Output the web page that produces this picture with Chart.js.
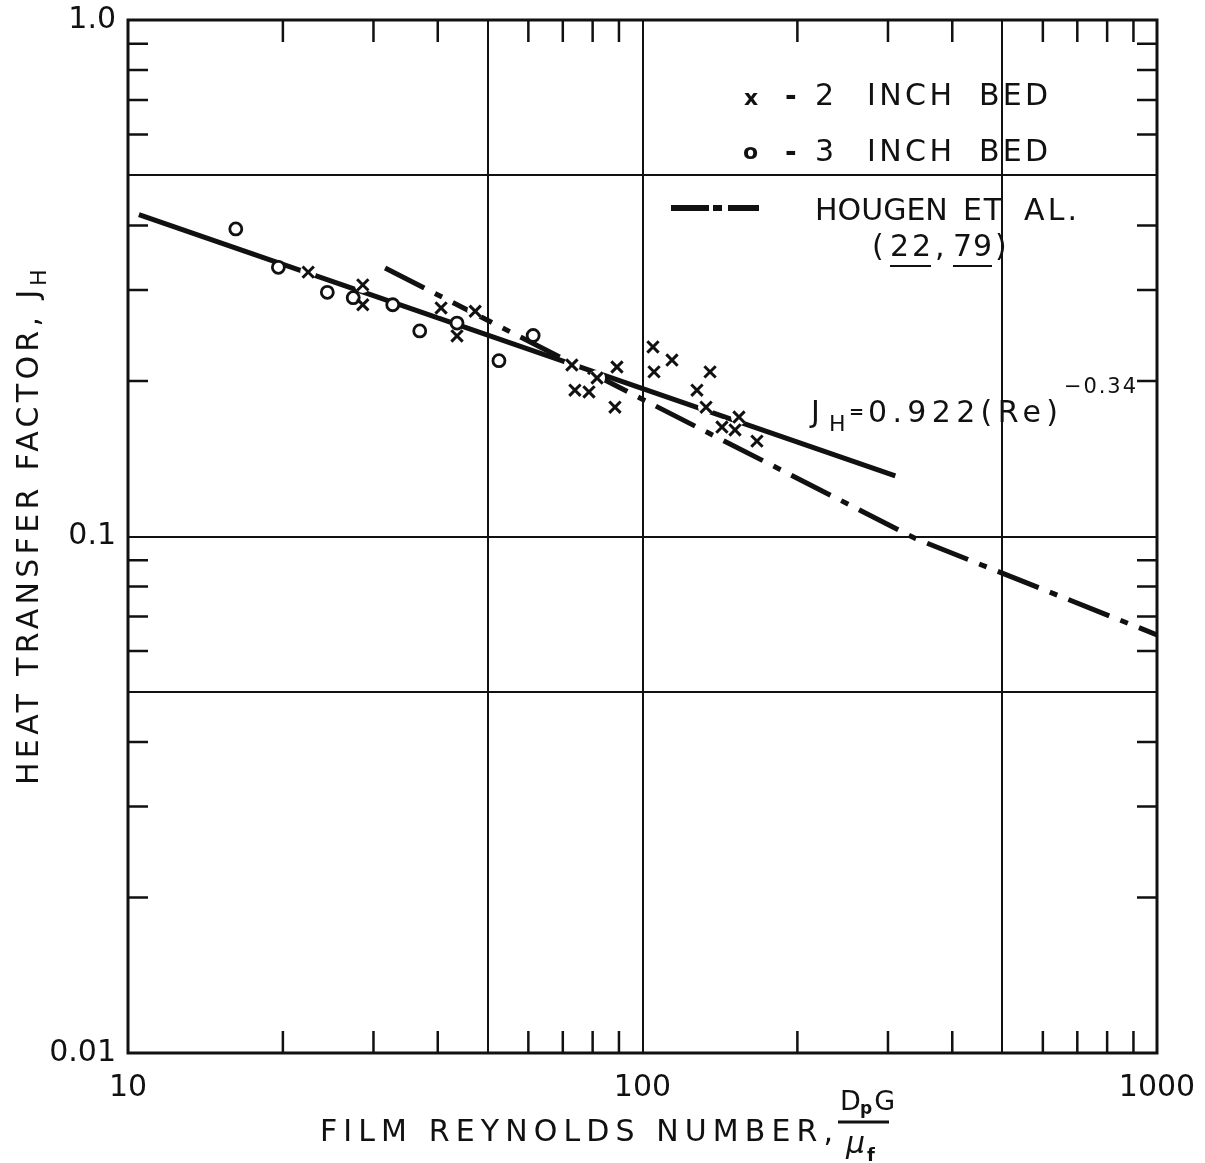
<!DOCTYPE html>
<html>
<head>
<meta charset="utf-8">
<script src="https://cdn.jsdelivr.net/npm/chart.js@4.4.1/dist/chart.umd.min.js"></script>
<style>
  html, body { margin: 0; background: #fff; }
  canvas { display: block; }
</style>
</head>
<body>
<canvas id="chart" width="1205" height="1163"></canvas>
<script>
// Heat transfer factor vs film Reynolds number, log-log.
// Points.

const bed2Re = [22.4, 28.6, 28.6, 40.6, 47.3, 43.6, 72.9, 73.9, 78.7, 81.6, 89.2, 88.4,
                104.8, 105.3, 114.1, 127.6, 132.9, 135.3, 154.0, 142.7, 151.3, 166.9];
const bed2J  = [0.325, 0.307, 0.281, 0.277, 0.273, 0.2445, 0.2148, 0.192, 0.1905, 0.2027, 0.2129, 0.178,
                0.2328, 0.2083, 0.2196, 0.192, 0.178, 0.2083, 0.1703, 0.1629, 0.1608, 0.153];

const bed3Re = [16.2, 19.6, 24.4, 27.4, 32.7, 36.9, 43.6, 52.6, 61.3];
const bed3J  = [0.394, 0.332, 0.297, 0.29, 0.281, 0.25, 0.259, 0.219, 0.245];

// J_H = 0.922 (Re)^-0.34, drawn as a straight segment between its end points
const fitRe = [10.5, 310];
const fitJ  = [0.42, 0.131];

// Hougen et al. (22, 79): two straight pieces with a break near Re = 340
const hougenRe = [31.6, 340, 1000];
const hougenJ  = [0.331, 0.099, 0.0645];

const xTickValues = [10, 20, 30, 40, 50, 60, 70, 80, 90, 100, 200, 300, 400, 500, 600, 700, 800, 900, 1000];
const yTickValues = [0.01, 0.02, 0.03, 0.04, 0.05, 0.06, 0.07, 0.08, 0.09, 0.1,
                     0.2, 0.3, 0.4, 0.5, 0.6, 0.7, 0.8, 0.9, 1];
const xGridValues = [50, 100, 500];
const yGridValues = [0.05, 0.1, 0.5];
const xTickLabels = { 10: "10", 100: "100", 1000: "1000" };
const yTickLabels = { 1: "1.0", 0.1: "0.1", 0.01: "0.01" };

const INK = "#111";
const FONT = '"DejaVu Sans", sans-serif';

const pts = (xs, ys) => xs.map((x, i) => ({ x, y: ys[i] }));

// draw text so that it fills x0..x1, spreading letters evenly
function spread(ctx, text, x0, x1, base, size, style = "") {
  ctx.font = `${style} ${size}px ${FONT}`;
  ctx.letterSpacing = "0px";
  const n = [...text].length;
  if (x1 != null && n > 1) {
    const w = ctx.measureText(text).width;
    ctx.letterSpacing = Math.max(0, (x1 - x0 - w) / (n - 1)) + "px";
  }
  ctx.fillText(text, x0, base);
  const end = x0 + ctx.measureText(text).width;
  ctx.letterSpacing = "0px";
  return end;
}

const overlay = {
  id: "overlay",
  afterDraw(chart) {
    const { ctx, chartArea: a, scales: { x, y } } = chart;
    ctx.save();
    ctx.strokeStyle = INK;
    ctx.fillStyle = INK;
    ctx.textAlign = "left";
    ctx.textBaseline = "alphabetic";

    // frame
    ctx.lineWidth = 3;
    ctx.strokeRect(a.left, a.top, a.right - a.left, a.bottom - a.top);

    // short inward ticks on all four sides
    ctx.lineWidth = 2.5;
    ctx.beginPath();
    xTickValues.filter((v) => v > 10 && v < 1000 && !xGridValues.includes(v)).forEach((v) => {
      const px = x.getPixelForValue(v);
      ctx.moveTo(px, a.top); ctx.lineTo(px, a.top + 22);
      ctx.moveTo(px, a.bottom); ctx.lineTo(px, a.bottom - 22);
    });
    yTickValues.filter((v) => v > 0.01 && v < 1 && !yGridValues.includes(v)).forEach((v) => {
      const py = y.getPixelForValue(v);
      ctx.moveTo(a.left, py); ctx.lineTo(a.left + 20, py);
      ctx.moveTo(a.right, py); ctx.lineTo(a.right - 20, py);
    });
    ctx.stroke();

    // legend
    spread(ctx, "x", 744, null, 105, 22, "bold");
    spread(ctx, "o", 743, null, 159, 22, "bold");
    [105, 161].forEach((b, i) => {
      spread(ctx, "-", 785, null, b, 28, "bold");
      spread(ctx, i ? "3" : "2", 815, null, b, 30);
      spread(ctx, "INCH", 867, 952, b, 30);
      spread(ctx, "BED", 979, 1048, b, 30);
    });
    ctx.lineWidth = 6;
    ctx.beginPath();
    ctx.moveTo(671, 208); ctx.lineTo(709, 208);
    ctx.moveTo(713, 208); ctx.lineTo(722, 208);
    ctx.moveTo(728, 208); ctx.lineTo(759, 208);
    ctx.stroke();
    spread(ctx, "HOUGEN", 815, 946, 220, 30);
    spread(ctx, "ET", 963, 1002, 220, 30);
    spread(ctx, "AL.", 1024, 1077, 220, 30);
    spread(ctx, "(", 872, null, 256, 30);
    spread(ctx, "22", 890, 931, 256, 30);
    spread(ctx, ",", 935, null, 256, 30);
    spread(ctx, "79", 953, 992, 256, 30);
    spread(ctx, ")", 995, null, 256, 30);
    ctx.lineWidth = 2;
    ctx.beginPath();
    ctx.moveTo(890, 266); ctx.lineTo(931, 266);
    ctx.moveTo(953, 266); ctx.lineTo(992, 266);
    ctx.stroke();

    // equation label
    spread(ctx, "J", 811, null, 422, 30);
    spread(ctx, "H", 829, null, 431, 22);
    spread(ctx, "=", 849, null, 418, 18, "bold");
    spread(ctx, "0.922(Re)", 868, 1058, 422, 30);
    spread(ctx, "\u22120.34", 1064, 1136, 393, 21);

    // x axis title
    spread(ctx, "FILM REYNOLDS NUMBER,", 320, 833, 1141, 30);
    spread(ctx, "D", 840, null, 1110, 27);
    const pEnd = spread(ctx, "p", 860, null, 1114, 17, "bold");
    spread(ctx, "G", pEnd + 2, null, 1110, 27);
    ctx.lineWidth = 3;
    ctx.beginPath();
    ctx.moveTo(838, 1122); ctx.lineTo(889, 1122);
    ctx.stroke();
    spread(ctx, "\u03bc", 846, null, 1153, 30, "italic");
    spread(ctx, "f", 867, null, 1161, 18, "bold");

    // y axis title, rotated
    ctx.translate(38, 785);
    ctx.rotate(-Math.PI / 2);
    spread(ctx, "HEAT TRANSFER FACTOR, J", 0, 495, 0, 30);
    spread(ctx, "H", 499, null, 8, 22);
    ctx.restore();
  },
};

new Chart(document.getElementById("chart"), {
  type: "scatter",
  data: {
    datasets: [
      {
        label: "2 inch bed",
        data: pts(bed2Re, bed2J),
        pointStyle: "crossRot",
        pointRadius: 8,
        pointBorderWidth: 3,
        pointBorderColor: INK,
        order: 0,
      },
      {
        label: "3 inch bed",
        data: pts(bed3Re, bed3J),
        pointStyle: "circle",
        pointRadius: 6,
        pointBorderWidth: 2.8,
        pointBorderColor: INK,
        pointBackgroundColor: "#fff",
        order: 1,
      },
      {
        // white gaps where the lines run through the x marks
        label: "gap",
        data: pts(bed2Re, bed2J),
        pointStyle: "circle",
        pointRadius: 8,
        pointBorderWidth: 0,
        pointBackgroundColor: "#fff",
        order: 2,
      },
      {
        label: "fit",
        data: pts(fitRe, fitJ),
        showLine: true,
        borderColor: INK,
        borderWidth: 5,
        pointRadius: 0,
        order: 3,
      },
      {
        label: "Hougen et al.",
        data: pts(hougenRe, hougenJ),
        showLine: true,
        borderColor: INK,
        borderWidth: 5,
        borderDash: [44, 12, 8, 12],
        pointRadius: 0,
        order: 4,
      },
    ],
  },
  options: {
    responsive: false,
    animation: false,
    layout: { padding: { top: 20, right: 48, left: 0, bottom: 0 } },
    plugins: { legend: { display: false }, tooltip: { enabled: false } },
    scales: {
      x: {
        type: "logarithmic",
        min: 10,
        max: 1000,
        afterBuildTicks: (s) => { s.ticks = xTickValues.map((value) => ({ value })); },
        afterFit: (s) => { s.height = 110; s.paddingLeft = 0; s.paddingRight = 0; },
        border: { display: false },
        grid: {
          drawTicks: false,
          lineWidth: 2,
          color: (c) => (c.tick && xGridValues.includes(c.tick.value) ? INK : "rgba(0,0,0,0)"),
        },
        ticks: {
          autoSkip: false,
          maxRotation: 0,
          padding: 17,
          color: INK,
          font: { family: FONT, size: 30 },
          callback: (v) => xTickLabels[v] ?? "",
        },
      },
      y: {
        type: "logarithmic",
        min: 0.01,
        max: 1,
        afterBuildTicks: (s) => { s.ticks = yTickValues.map((value) => ({ value })); },
        afterFit: (s) => { s.width = 128; s.paddingTop = 0; s.paddingBottom = 0; },
        border: { display: false },
        grid: {
          drawTicks: false,
          lineWidth: 2,
          color: (c) => (c.tick && yGridValues.includes(c.tick.value) ? INK : "rgba(0,0,0,0)"),
        },
        ticks: {
          autoSkip: false,
          padding: 12,
          color: INK,
          font: { family: FONT, size: 30 },
          callback: (v) => yTickLabels[v] ?? "",
        },
      },
    },
  },
  plugins: [overlay],
});
</script>
</body>
</html>
